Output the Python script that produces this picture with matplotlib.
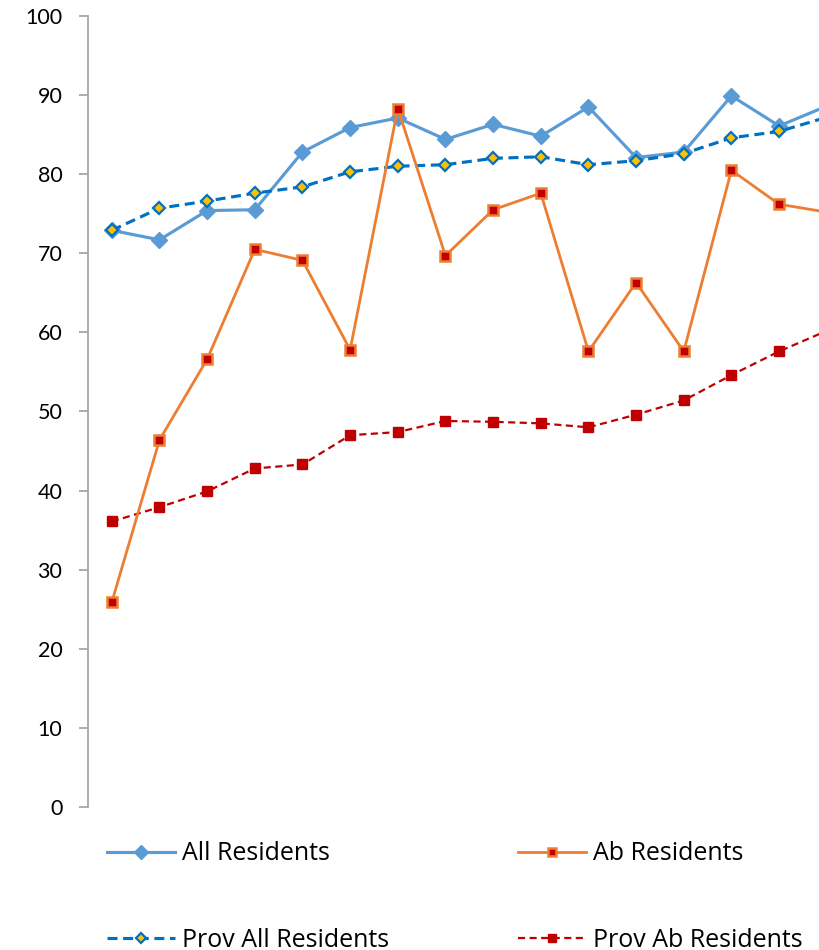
import matplotlib
matplotlib.use('Agg')
import matplotlib.pyplot as plt
import numpy as np

plt.rcParams['font.family'] = ['Lato', 'DejaVu Sans']

# values per period (16 periods)
periods = list(range(16))
all_res = [72.9, 71.7, 75.4, 75.5, 82.8, 85.9, 87.1, 84.4, 86.3, 84.8, 88.5, 82.1, 82.8, 89.9, 86.1, 88.6]
ab_res = [25.9, 46.4, 56.6, 70.5, 69.1, 57.8, 88.3, 69.7, 75.5, 77.6, 57.6, 66.3, 57.6, 80.5, 76.2, 75.2]
prov_all = [72.9, 75.7, 76.6, 77.6, 78.4, 80.3, 81.0, 81.2, 82.0, 82.2, 81.2, 81.7, 82.6, 84.6, 85.4, 87.2]
prov_ab = [36.1, 37.9, 39.9, 42.8, 43.3, 47.0, 47.4, 48.8, 48.7, 48.5, 48.0, 49.6, 51.4, 54.6, 57.6, 60.2]
yticks = [0, 10, 20, 30, 40, 50, 60, 70, 80, 90, 100]

fig = plt.figure(figsize=(8.2, 9.5), dpi=100)
ax = fig.add_axes([0.1073, 0.1505, 0.930, 0.8327])

l1, = ax.plot(periods, all_res, color='#5B9BD5', lw=2.25, marker='D', ms=8,
              mfc='#5B9BD5', mec='#5B9BD5', zorder=3)
l2, = ax.plot(periods, ab_res, color='#ED7D31', lw=2.0, marker='s', ms=7.5,
              mfc='#C00000', mec='#ED7D31', mew=1.8, zorder=4)
l3, = ax.plot(periods, prov_all, color='#0070C0', lw=2.25, dashes=(3.2, 1.8), marker='D', ms=6.5,
              mfc='#FFC000', mec='#0070C0', mew=1.6, zorder=3)
l4, = ax.plot(periods, prov_ab, color='#C00000', lw=1.6, dashes=(3.2, 2.0), marker='s', ms=6.5,
              mfc='#C00000', mec='#C00000', zorder=3)

ax.set_xlim(-0.5, 15.5)
ax.set_ylim(0, 100)
ax.set_yticks(yticks)
ax.set_xticks([])
for s in ['top', 'right', 'bottom']:
    ax.spines[s].set_visible(False)
ax.spines['left'].set_color('#A6A6A6')
ax.spines['left'].set_linewidth(1.3)
ax.tick_params(axis='y', length=6.5, width=1.3, color='#A6A6A6', pad=12, labelsize=15.5, labelcolor='black')

leg = fig.legend([l1, l3, l2, l4], ['All Residents', 'Prov All Residents', 'Ab Residents', 'Prov Ab Residents'],
                 ncol=2, loc='center left', bbox_to_anchor=(0.1305, 0.0558), frameon=False,
                 prop={'family': ['Open Sans', 'DejaVu Sans'], 'size': 18},
                 handlelength=2.72, handletextpad=0.28, labelspacing=2.45,
                 columnspacing=5.15, borderpad=0, borderaxespad=0, markerscale=0.85)

fig.savefig('out.png', dpi=100)
